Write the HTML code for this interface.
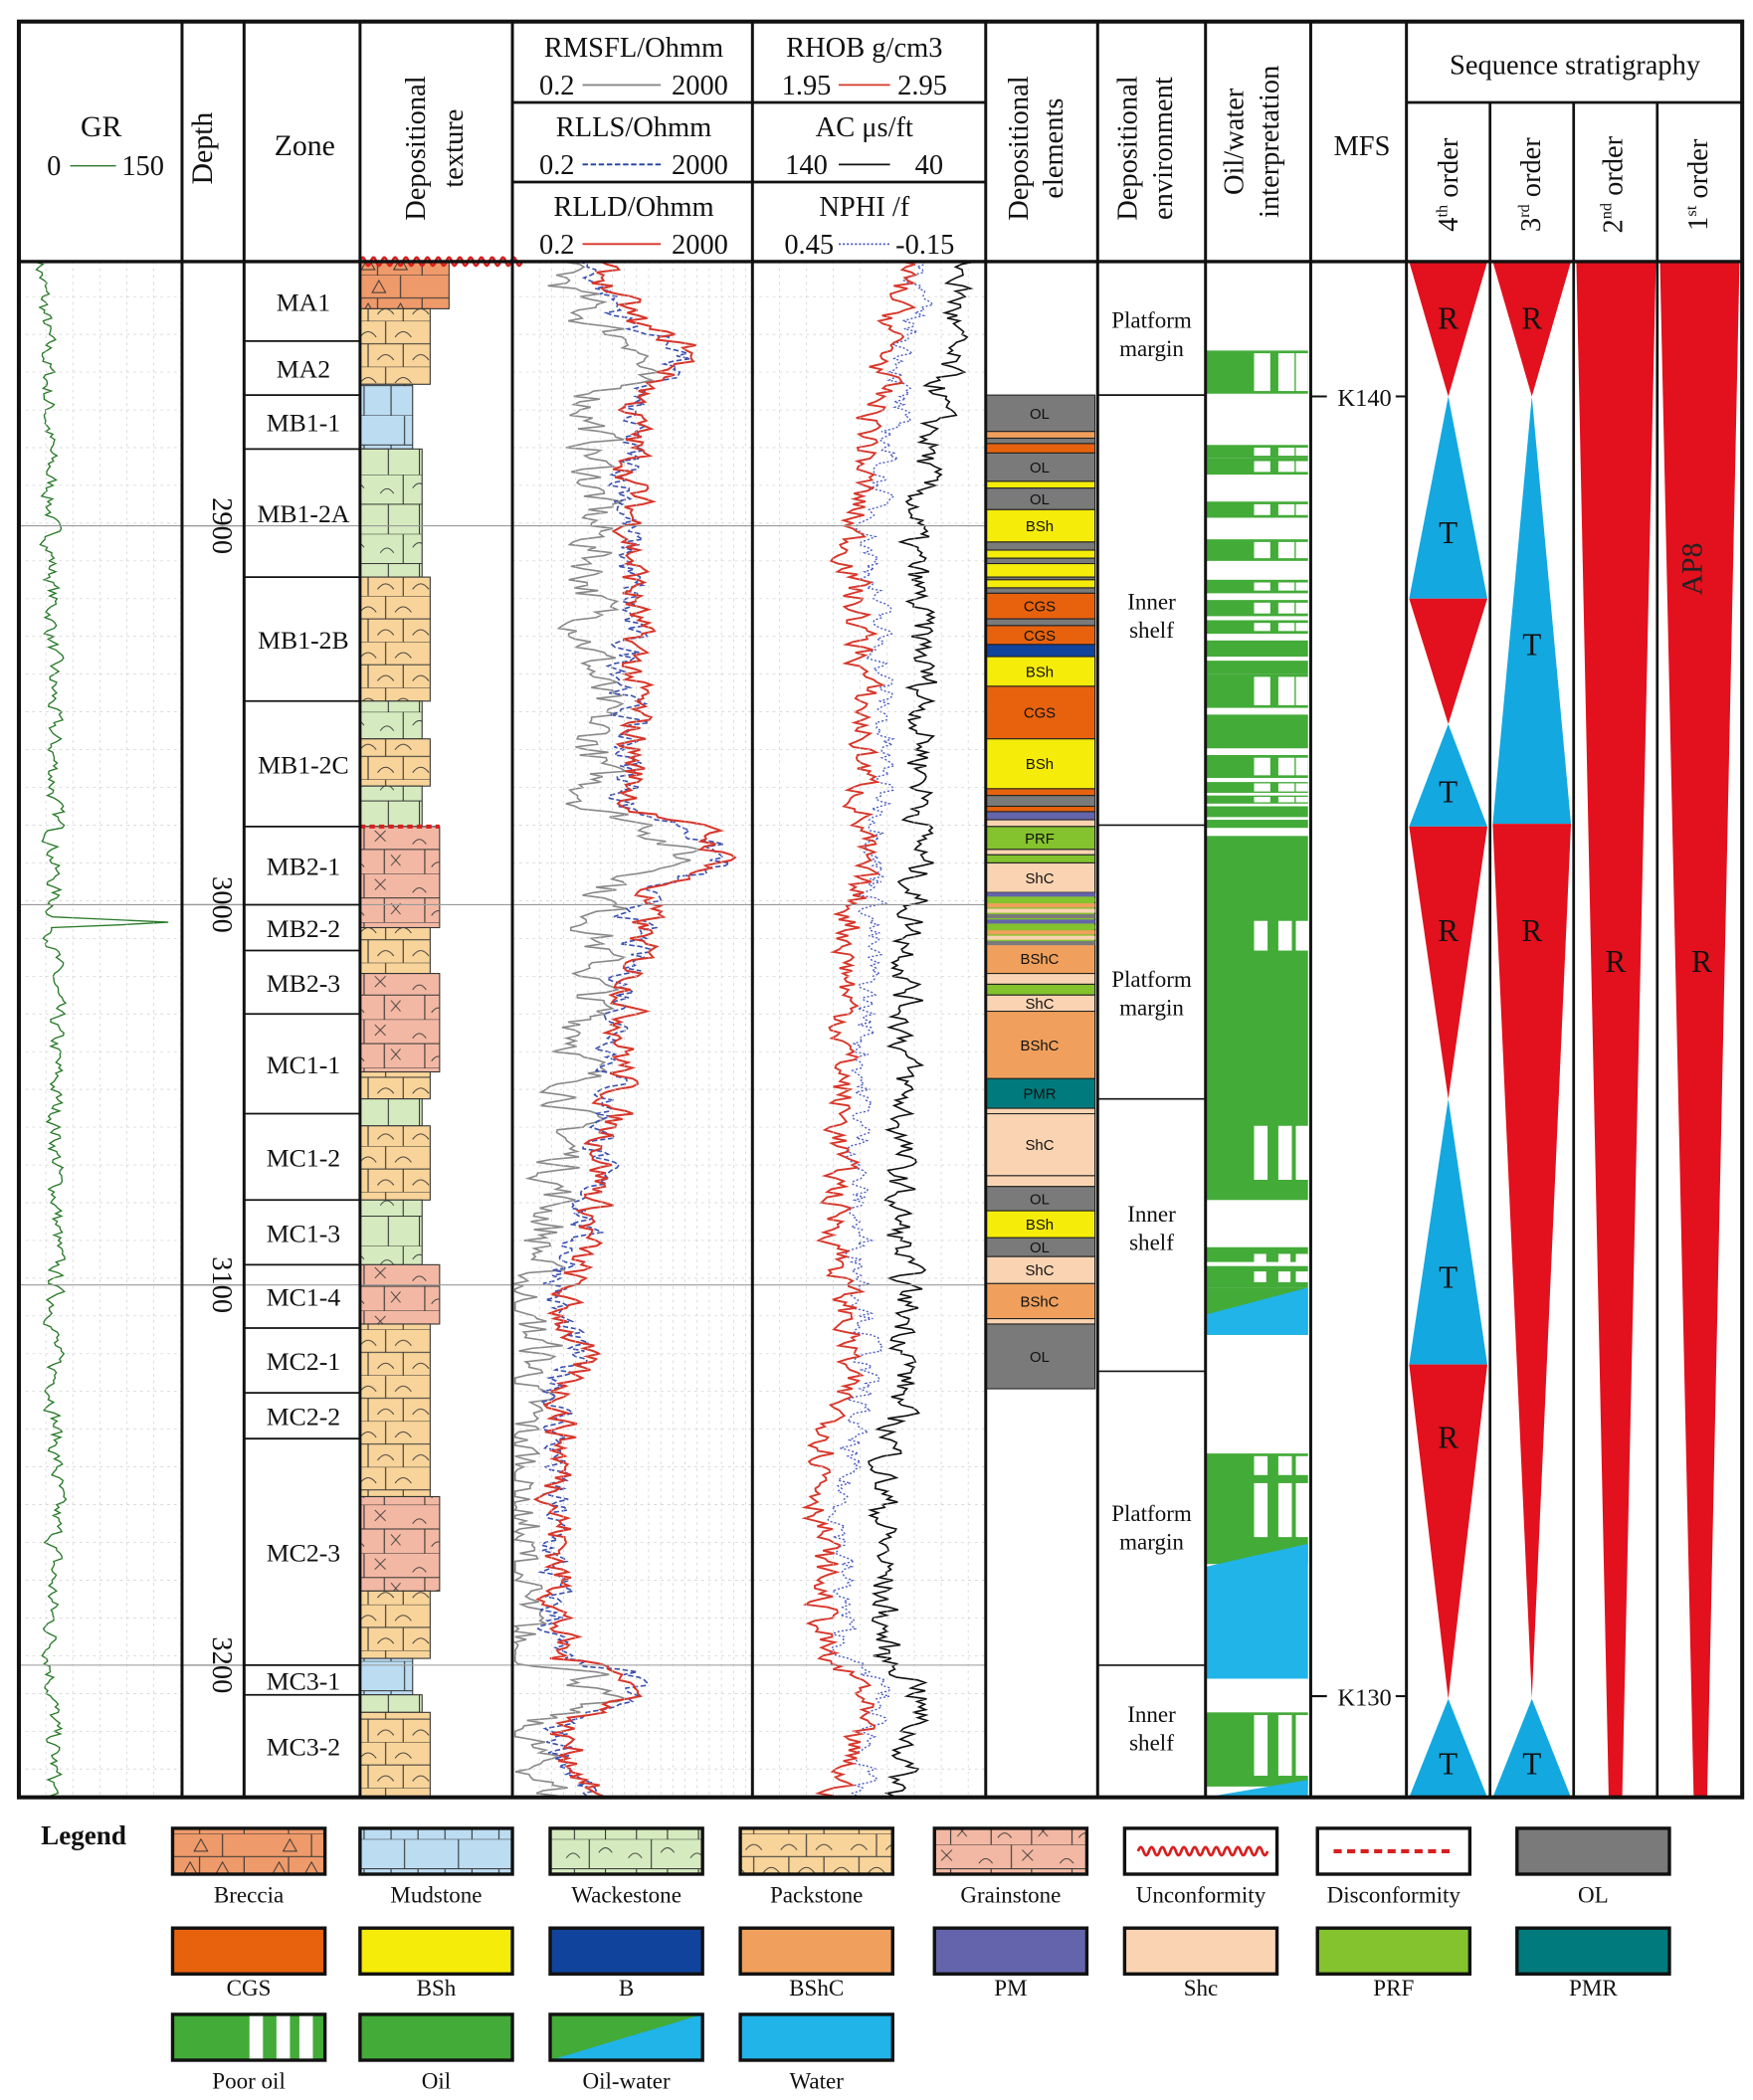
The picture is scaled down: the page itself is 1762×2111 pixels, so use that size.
<!DOCTYPE html>
<html><head><meta charset="utf-8"><style>
html,body{margin:0;padding:0;background:#fff;}
svg{display:block;}
text{font-family:"Liberation Serif",serif;fill:#111;}
.s{font-family:"Liberation Sans",sans-serif;font-size:11px;text-anchor:middle;}
</style></head><body>
<svg id="g" width="1762" height="2111" viewBox="0 0 1300 1557.5" preserveAspectRatio="none" xmlns="http://www.w3.org/2000/svg">
<defs>
<pattern id="pk" width="52" height="34" patternUnits="userSpaceOnUse"><rect width="52" height="34" fill="#f8d49a"/><path d="M0 0H52M0 17H52M26 0V17M13 17V34M39 17V34" stroke="#333" stroke-width="0.8" fill="none"/><path d="M7 12Q13 4 19 12M33 12Q39 4 45 12M20 29Q26 21 32 29M46 29Q52 21 58 29M-6 29Q0 21 6 29" stroke="#333" stroke-width="0.7" fill="none"/></pattern>
<pattern id="wk" width="46" height="44" patternUnits="userSpaceOnUse"><rect width="46" height="44" fill="#d5ebbf"/><path d="M0 0H46M0 22H46M23 0V22M12 22V44M35 22V44" stroke="#333" stroke-width="0.8" fill="none"/><path d="M6 14Q11 7 16 14M30 10Q35 3 40 10" stroke="#333" stroke-width="0.7" fill="none"/></pattern>
<pattern id="md" width="40" height="44" patternUnits="userSpaceOnUse"><rect width="40" height="44" fill="#bcdcf2"/><path d="M0 0H40M0 22H40M20 0V22M10 22V44M30 22V44" stroke="#333" stroke-width="0.8" fill="none"/></pattern>
<pattern id="gs" width="60" height="36" patternUnits="userSpaceOnUse"><rect width="60" height="36" fill="#f2b8a4"/><path d="M0 0H60M0 18H60M30 0V18M15 18V36M45 18V36" stroke="#333" stroke-width="0.8" fill="none"/><path d="M6 14Q11 7 16 14M20 31Q25 24 30 31" stroke="#333" stroke-width="0.7" fill="none"/><path d="M38 4L46 12M46 4L38 12M50 22L57 30M57 22L50 30" stroke="#333" stroke-width="0.6"/></pattern>
<pattern id="br" width="66" height="34" patternUnits="userSpaceOnUse"><rect width="66" height="34" fill="#ef9a6a"/><path d="M0 0H66M0 17H66M33 0V17M16 17V34M49 17V34" stroke="#333" stroke-width="0.8" fill="none"/><path d="M12 13L17 4L22 13ZM4 30L9 21L14 30ZM28 30L33 21L38 30Z" stroke="#333" stroke-width="0.7" fill="none"/></pattern>
</defs>
<rect width="1300" height="1557.5" fill="#fff"/>
<g id="body"></g>
<g id="frame" stroke="#111" fill="none"></g>
</svg>
<script>
var NS="http://www.w3.org/2000/svg",svg=document.getElementById('g'),B=document.getElementById('body'),F=document.getElementById('frame');
function el(t,a,p,txt){var e=document.createElementNS(NS,t);for(var k in a)e.setAttribute(k,a[k]);if(txt!=null)e.textContent=txt;(p||B).appendChild(e);return e;}
function R(x,y,w,h,f,p,extra){var a={x:x,y:y,width:w,height:h,fill:f};if(extra)for(var k in extra)a[k]=extra[k];return el('rect',a,p);}
function T(x,y,s,sz,o){var a={x:x,y:y,'font-size':sz||20,'text-anchor':'middle'};if(o)for(var k in o)a[k]=o[k];return el('text',a,null,s);}
function L(x1,y1,x2,y2,w,c,p){return el('line',{x1:x1,y1:y1,x2:x2,y2:y2,'stroke-width':w||2,stroke:c||'#111'},p||F);}
var seed=7;function rnd(){seed=(seed*16807)%2147483647;return seed/2147483647;}
var TOP=194,BOT=1333;
[[14,135],[380,558],[558,731]].forEach(function(t){for(var y=220;y<BOT;y+=28)L(t[0],y,t[1],y,0.5,'#ccc').setAttribute('stroke-dasharray','2 3');
 for(var x=t[0]+20;x<t[1];x+=t[0]==380?9:20)L(x,TOP,x,BOT,0.5,'#ccc').setAttribute('stroke-dasharray','2 3');});
[390,671,953,1235].forEach(function(y){L(14,y,380,y,0.8,'#999');L(380,y,731,y,0.8,'#999');});
function curve(pts,noise,col,w,dash,xmin,xmax){var d='',i=0,n=0;for(var y=TOP;y<=BOT;y+=2){while(i<pts.length-2&&y>pts[i+1][0])i++;var a=pts[i],b=pts[i+1];var f=(y-a[0])/(b[0]-a[0]);f=Math.max(0,Math.min(1,f));var x=a[1]+(b[1]-a[1])*f;n=n*0.5+(rnd()-0.5)*noise;x+=n;x=Math.max(xmin,Math.min(xmax,x));d+=(d?'L':'M')+x.toFixed(1)+' '+y;}var e=el('path',{d:d,fill:'none',stroke:col,'stroke-width':w});if(dash)e.setAttribute('stroke-dasharray',dash);}
curve([[194,30],[260,35],[400,38],[600,40],[612,42],[614,48],[616,40],[680,40],[684,125],[688,40],[900,42],[1000,40],[1100,42],[1200,38],[1333,40]],10,'#2a7a2a',1,null,16,133);
var res=[[194,440],[240,470],[260,515],[300,470],[400,470],[500,470],[600,470],[615,520],[640,540],[660,480],[800,460],[900,440],[970,415],[1000,430],[1033,420],[1100,415],[1230,415],[1240,470],[1260,470],[1280,415],[1333,440]];
curve(res.map(function(p){return [p[0],p[1]-30]}),32,'#888',1.2,null,382,556);
curve(res.map(function(p){return [p[0],p[1]-5]}),22,'#3a4fb0',1.2,'4 2',382,556);
curve(res,22,'#d8362a',1.5,null,382,556);
var den=[[194,670],[300,650],[400,630],[500,640],[600,640],[700,630],[900,620],[1000,630],[1100,610],[1230,610],[1250,640],[1333,620]];
curve(den.map(function(p){return [p[0],p[1]+45]}),20,'#111',1.2,null,560,729);
curve(den.map(function(p){return [p[0],p[1]+15]}),16,'#4858c0',1,'1.5 1.5',560,729);
curve(den,20,'#d8362a',1.4,null,560,729);
var tex=[[194,229,'br',333],[229,285,'pk',319],[285,333,'md',306],[333,428,'wk',313],[428,520,'pk',319],[520,548,'wk',313],[548,583,'pk',319],[583,613,'wk',313],[613,688,'gs',326],[688,722,'pk',319],[722,795,'gs',326],[795,815,'pk',319],[815,835,'wk',313],[835,890,'pk',319],[890,938,'wk',313],[938,982,'gs',326],[982,1110,'pk',319],[1110,1180,'gs',326],[1180,1230,'pk',319],[1230,1257,'md',306],[1257,1270,'wk',313],[1270,1333,'pk',319]];
tex.forEach(function(t){R(267,t[0],t[3]-267,t[1]-t[0],'url(#'+t[2]+')',null,{stroke:'#333','stroke-width':0.8});});
var wv='M267 194';for(var x=267;x<380;x+=8)wv+=' Q'+(x+2)+' 188 '+(x+4)+' 194 T'+(x+8)+' 194';
el('path',{d:wv,fill:'none',stroke:'#d81f1f','stroke-width':2});
L(267,613,326,613,3,'#d81f1f',B).setAttribute('stroke-dasharray','4 3');
var zb=[194,253,293,333,428,520,613,671,705,752,826,890,938,985,1033,1067,1235,1257,1333];
var zn=['MA1','MA2','MB1-1','MB1-2A','MB1-2B','MB1-2C','MB2-1','MB2-2','MB2-3','MC1-1','MC1-2','MC1-3','MC1-4','MC2-1','MC2-2','MC2-3','MC3-1','MC3-2'];
for(var i=0;i<zn.length;i++){T(225,(zb[i]+zb[i+1])/2+7,zn[i],19);if(i>0)L(181,zb[i],267,zb[i],1.3);}
[[390,'2900'],[671,'3000'],[953,'3100'],[1235,'3200']].forEach(function(d){L(135,d[0],181,d[0],1,'#999');T(158,d[0],d[1],21,{transform:'rotate(90 158 '+d[0]+')'});});
var C={OL:'#7a7a7a',CGS:'#e8620e',BSh:'#f5ec0a',B:'#10449c',BShC:'#f0a05c',PM:'#6464ac',ShC:'#fad4b2',PRF:'#84c22e',PMR:'#007a7c',o:'#f0a05c'};
var els=[[293,320,'OL','OL'],[320,325,'o'],[325,329,'OL'],[329,336,'CGS'],[336,357,'OL','OL'],[357,362,'BSh'],[362,378,'OL','OL'],[378,402,'BSh','BSh'],[402,408,'OL'],[408,414,'BSh'],[414,418,'OL'],[418,428,'BSh'],[428,430,'OL'],[430,436,'BSh'],[436,440,'OL'],[440,459,'CGS','CGS'],[459,464,'OL'],[464,478,'CGS','CGS'],[478,487,'B'],[487,509,'BSh','BSh'],[509,548,'CGS','CGS'],[548,585,'BSh','BSh'],[585,590,'CGS'],[590,598,'OL'],[598,602,'CGS'],[602,608,'PM'],[608,613,'ShC'],[613,630,'PRF','PRF'],[630,634,'ShC'],[634,640,'PRF'],[640,662,'ShC','ShC'],[662,700,'PRF'],[700,722,'BShC','BShC'],[722,730,'ShC'],[730,738,'PRF'],[738,750,'ShC','ShC'],[750,800,'BShC','BShC'],[800,822,'PMR','PMR'],[822,826,'ShC'],[826,872,'ShC','ShC'],[872,880,'ShC'],[880,898,'OL','OL'],[898,918,'BSh','BSh'],[918,932,'OL','OL'],[932,952,'ShC','ShC'],[952,978,'BShC','BShC'],[978,982,'ShC'],[982,1030,'OL','OL']];
els.forEach(function(e){R(731,e[0],81,e[1]-e[0],C[e[2]],null,{stroke:'#222','stroke-width':0.8});if(e[3])el('text',{x:771,y:(e[0]+e[1])/2+4,'class':'s'},null,e[3]);});
var sc=['#6464ac','#84c22e','#f0a05c','#fad4b2','#7a7a7a'];for(var y=662,j=0;y<700;y+=4,j++){R(731,y,81,3,sc[j%5]);}
[293,612,815,1017,1235].forEach(function(y){L(814,y,894,y,1.2);});
[[236,'Platform','margin'],[445,'Inner','shelf'],[725,'Platform','margin'],[899,'Inner','shelf'],[1121,'Platform','margin'],[1270,'Inner','shelf']].forEach(function(e){T(854,e[0]+7,e[1],17);T(854,e[0]+28,e[2],17);});
var G='#43ab38',W='#20b4e8';
function poor(y,h){R(894,y,76,h,G);[930,948,961].forEach(function(x){R(x,y+(h>8?2:1),x==961?9:12,h>8?h-4:h-2,'#fff');});}
poor(260,32);
[[330,10,1],[340,12,1],[372,12,1],[400,16,1],[430,10,1],[445,12,1],[460,10,1],[475,12,0],[490,10,0],[500,25,1],[530,25,0],[560,17,1],[580,8,1],[590,6,1],[598,8,0],[608,6,0]].forEach(function(r){if(r[2])poor(r[0],r[1]);else R(894,r[0],76,r[1],G);});
R(894,620,76,270,G);[930,948,961].forEach(function(x){R(x,683,10,22,'#fff');R(x,835,10,40,'#fff');});
R(894,925,76,30,G);[930,948,961].forEach(function(x){R(x,930,9,8,'#fff');R(x,943,9,8,'#fff');});
R(894,936,76,3,'#fff');
el('polygon',{points:'894,955 970,955 970,990 894,990',fill:G});el('polygon',{points:'894,975 970,955 970,990 894,990',fill:W});
R(894,1078,76,82,G);[930,948,961].forEach(function(x){R(x,1080,10,14,'#fff');R(x,1100,10,40,'#fff');});
el('polygon',{points:'894,1162 970,1145 970,1245 894,1245',fill:W});
R(894,1270,76,55,G);[930,948,961].forEach(function(x){R(x,1272,10,45,'#fff');});
el('polygon',{points:'894,1333 970,1320 970,1333',fill:W});
L(972,294,984,294,1.5);T(1012,301,'K140',18);L(1035,294,1043,294,1.5);
L(972,1258,984,1258,1.5);T(1012,1265,'K130',18);L(1035,1258,1043,1258,1.5);
var RD='#e3101e',BL='#14a8e0';
function tri(x1,x2,y1,y2,t,lbl,ly){var m=(x1+x2)/2;var p=t=='R'?[x1,y1,x2,y1,m,y2]:[m,y1,x2,y2,x1,y2];el('polygon',{points:p.join(','),fill:t=='R'?RD:BL});if(lbl)T(m,ly,lbl,23);}
[[194,294,'R',244],[294,444,'T',403],[444,537,'R',0],[537,613,'T',595],[613,815,'R',698],[815,1012,'T',955],[1012,1260,'R',1074],[1260,1333,'T',1316]].forEach(function(s){tri(1045,1103,s[0],s[1],s[2],s[3]?s[2]:null,s[3]);});
[[194,294,'R',244],[294,611,'T',486],[611,1260,'R',698],[1260,1333,'T',1316]].forEach(function(s){tri(1107,1165,s[0],s[1],s[2],s[2],s[3]);});
el('polygon',{points:'1169,194 1228,194 1203,1333 1193,1333',fill:RD});T(1198,721,'R',23);
el('polygon',{points:'1231,194 1290,194 1266,1333 1256,1333',fill:RD});T(1262,721,'R',23);
T(1262,422,'AP8',22,{transform:'rotate(-90 1262 422)',style:'fill:#222'});
T(75,101,'GR',22);T(40,130,'0',21);T(106,130,'150',21);L(52,123,86,123,1,'#2a7a2a',B);
T(157,110,'Depth',22,{transform:'rotate(-90 157 110)'});
T(226,115,'Zone',22);
T(315,110,'Depositional',21,{transform:'rotate(-90 315 110)'});T(343,110,'texture',21,{transform:'rotate(-90 343 110)'});
var hh=[['RMSFL/Ohmm','0.2','2000','#888',null,35],['RLLS/Ohmm','0.2','2000','#2040a0','4 2',94],['RLLD/Ohmm','0.2','2000','#d8362a',null,153]];
hh.forEach(function(h){T(470,h[5]+7,h[0],21);T(413,h[5]+35,h[1],21);T(519,h[5]+35,h[2],21);var l=L(432,h[5]+28,490,h[5]+28,1.4,h[3],B);if(h[4])l.setAttribute('stroke-dasharray',h[4]);});
[['RHOB  g/cm3','1.95','2.95','#d8362a',null,35,641,598,684],['AC    μs/ft','140','40','#111',null,94,641,598,689],['NPHI    /f','0.45','-0.15','#4858c0','1.5 1.5',153,641,600,686]].forEach(function(h){T(h[6],h[5]+7,h[0],21,{'xml:space':'preserve'});T(h[7],h[5]+35,h[1],21);T(h[8],h[5]+35,h[2],21);var l=L(622,h[5]+28,660,h[5]+28,1.3,h[3],B);if(h[4])l.setAttribute('stroke-dasharray',h[4]);});
[['Depositional',762],['elements',788]].forEach(function(t){T(t[1],110,t[0],21,{transform:'rotate(-90 '+t[1]+' 110)'});});
[['Depositional',843],['environment',869]].forEach(function(t){T(t[1],110,t[0],21,{transform:'rotate(-90 '+t[1]+' 110)'});});
[['Oil/water',922],['interpretation',948]].forEach(function(t){T(t[1],105,t[0],21,{transform:'rotate(-90 '+t[1]+' 105)'});});
T(1010,115,'MFS',21);
T(1168,55,'Sequence stratigraphy',21);
[['4','th',1081],['3','rd',1142],['2','nd',1203],['1','st',1266]].forEach(function(o){var t=T(o[2],137,'',21,{transform:'rotate(-90 '+o[2]+' 137)'});t.innerHTML=o[0]+'<tspan font-size="12" dy="-8">'+o[1]+'</tspan><tspan dy="8"> order</tspan>';});
R(14,16,1278,1317,'none',F,{'stroke-width':3});
[135,181,267,380,558,731,814,894,972,1043].forEach(function(x){L(x,16,x,BOT,2.2);});
[1105,1167,1229].forEach(function(x){L(x,76,x,BOT,2);});
L(1043,76,1292,76,2);L(14,194,1292,194,2.5);
L(380,76,731,76,2);L(380,135,731,135,2);
T(62,1368,'Legend',20,{'font-weight':'bold'});
var lg=[[128,1356,'br','Breccia'],[267,1356,'md','Mudstone'],[408,1356,'wk','Wackestone'],[549,1356,'pk','Packstone'],[693,1356,'gs','Grainstone'],[834,1356,'unc','Unconformity'],[977,1356,'dis','Disconformity'],[1125,1356,'#7a7a7a','OL'],
[128,1430,'#e8620e','CGS'],[267,1430,'#f5ec0a','BSh'],[408,1430,'#10449c','B'],[549,1430,'#f0a05c','BShC'],[693,1430,'#6464ac','PM'],[834,1430,'#fad4b2','Shc'],[977,1430,'#84c22e','PRF'],[1125,1430,'#007a7c','PMR'],
[128,1494,'poor','Poor oil'],[267,1494,G,'Oil'],[408,1494,'ow','Oil-water'],[549,1494,W,'Water']];
lg.forEach(function(l){var x=l[0],y=l[1],w=113,h=34,k=l[2],f='#fff';
 if(['br','md','wk','pk','gs'].indexOf(k)>=0)f='url(#'+k+')';else if(k[0]=='#')f=k;else if(k=='poor'||k=='ow')f=G;
 R(x,y,w,h,f);
 if(k=='poor'){[185,205,222].forEach(function(xx){R(xx,y,10,h,'#fff');});}
 if(k=='ow')el('polygon',{points:(x)+','+(y+h)+' '+(x+w)+','+y+' '+(x+w)+','+(y+h),fill:W});
 if(k=='unc'){var d='M'+(x+10)+' '+(y+17);for(var xx=x+10;xx<x+w-10;xx+=8)d+=' q2 -6 4 0 t4 0';el('path',{d:d,fill:'none',stroke:'#d81f1f','stroke-width':2});}
 if(k=='dis')L(x+12,y+17,x+w-12,y+17,3,'#d81f1f',B).setAttribute('stroke-dasharray','6 4');
 R(x,y,w,h,'none',B,{stroke:'#111','stroke-width':2.5});
 T(x+w/2,y+(y==1430?50:55),l[3],17);});
</script>
</body></html>
